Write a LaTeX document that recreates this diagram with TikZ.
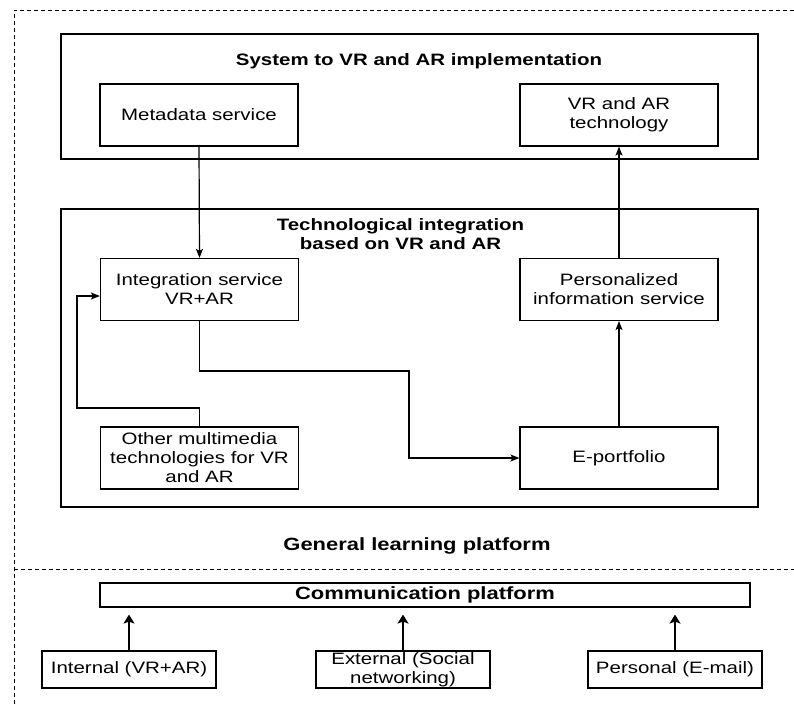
\documentclass[tikz,border=0pt]{standalone}
\usepackage{fontspec}
\setmainfont[FakeStretch=1.24]{Liberation Sans}
\usetikzlibrary{arrows.meta}
\begin{document}
\begin{tikzpicture}[x=1pt,y=-1pt,
        every node/.style={font=\fontsize{16.5}{19}\selectfont},
        box/.style={draw, line width=1.2pt, align=center, inner sep=0pt, minimum width=198pt, minimum height=62pt},
        bottombox/.style={draw, line width=1.2pt, align=center, inner sep=0pt, minimum width=174pt, minimum height=37pt},
        frame/.style={draw, line width=1.2pt},
        title/.style={align=center, font=\fontsize{16.5}{19}\selectfont\bfseries},
        bigtitle/.style={align=center, font=\fontsize{17.7}{20}\selectfont\bfseries},
        flow/.style={-{Stealth[length=9pt,width=7pt,inset=2pt]}, line width=1.2pt},
        feed/.style={-{Stealth[length=9pt,width=11pt,inset=2pt]}, line width=1.5pt, shorten >=7pt}]
        \useasboundingbox (0,0) rectangle (794,704);
        %draw dashed platform borders
        \draw[dashed, dash pattern=on 4pt off 3pt, line width=1pt] (14,704) -- (14,10) -- (794,10);
        \draw[dashed, dash pattern=on 4pt off 3pt, line width=1pt] (14,569) -- (794,569);
        %draw the two frames
        \draw[frame] (61,34) rectangle (758,159);
        \draw[frame] (61,209) rectangle (758,507);
        \node[title] (systitle) at (419,61) {System to VR and AR implementation};
        \node[title] (techtitle) at (400.5,234) {Technological integration\\based on VR and AR};
        \node[bigtitle] (general) at (417,546) {General learning platform};

        % boxes
        \node[box] (meta) at (199,115) {Metadata service};
        \node[box] (vrtech) at (619,115) {VR and AR\\technology};
        \node[box] (integ) at (199.5,289.5) {Integration service\\VR+AR};
        \node[box] (other) at (199.5,458) {Other multimedia\\technologies for VR\\and AR};
        \node[box] (pers) at (619,289.5) {Personalized\\information service};
        \node[box] (eport) at (619,458) {E-portfolio};

        \node[draw, line width=1.2pt, minimum width=650pt, minimum height=24pt, inner sep=0pt, bigtitle] (comm) at (425,595) {Communication platform};
        \node[bottombox] (internal) at (129,669.5) {Internal (VR+AR)};
        \node[bottombox] (external) at (403,669.5) {External (Social\\networking)};
        \node[bottombox] (personal) at (675,669.5) {Personal (E-mail)};

        % connectors
        \coordinate (bendA) at (409,371);
        \coordinate (bendB) at (77,408);
        \draw[flow] (meta.south) -- (integ.north);
        \draw[flow] (integ.south) |- (bendA) |- (eport.west);
        \draw[flow] (other.north) |- (bendB) |- ([yshift=-6.5pt]integ.west);
        \draw[flow] (eport.north) -- (pers.south);
        \draw[flow] (pers.north) -- (vrtech.south);

        \draw[feed] (internal.north) -- (internal.north |- comm.south);
        \draw[feed] (external.north) -- (external.north |- comm.south);
        \draw[feed] (personal.north) -- (personal.north |- comm.south);
    \end{tikzpicture}
\end{document}
